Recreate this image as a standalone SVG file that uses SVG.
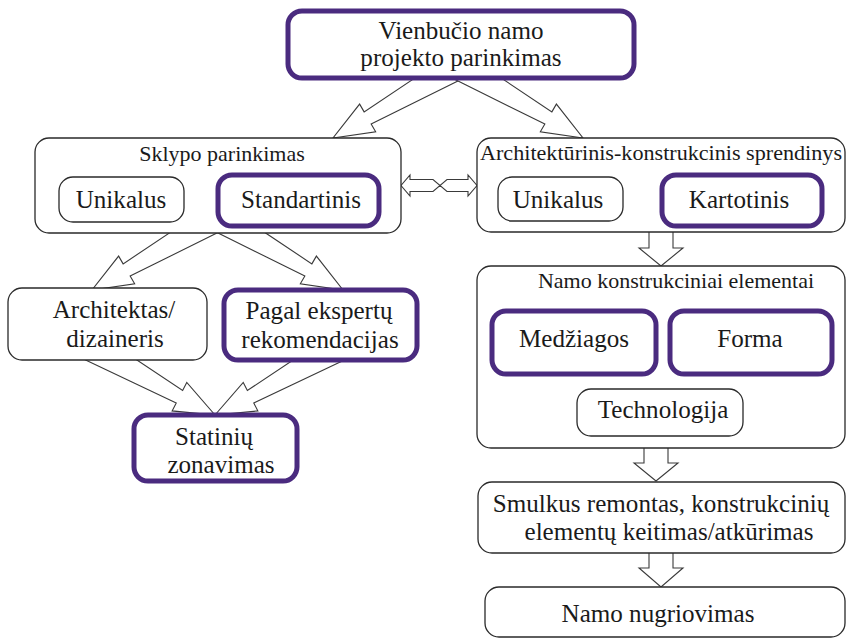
<svg xmlns="http://www.w3.org/2000/svg" width="848" height="640" viewBox="0 0 848 640" font-family="'Liberation Serif', 'Times New Roman', Times, serif">
<style>
  text { font-family: 'Liberation Serif', 'Times New Roman', Times, serif; fill: #1a1a1a; text-anchor: middle; }
  .t { font-size: 22px; }
  .ti { font-size: 22px; }
  .box { fill: #ffffff; stroke: #2a2a2a; stroke-width: 1.3; }
  .pbox { fill: #ffffff; stroke: #4a2b7f; stroke-width: 5; }
  .arr { fill: #ffffff; stroke: #3a3a3a; stroke-width: 1.1; stroke-linejoin: miter; }
</style>
<rect width="848" height="640" fill="#ffffff"/>

<g id="connectors">
  <polygon class="arr" points="453.97,51.85 364.13,111.9 359.62,104.1 333,138 375.66,131.82 371.15,124.02 468,76.09"/>
  <polygon class="arr" points="462.03,51.85 551.87,111.9 556.38,104.1 583,138 540.34,131.82 544.85,124.02 448,76.09"/>
  <polygon class="arr" points="212.97,203.85 123.13,263.9 118.62,256.1 92,290 134.66,283.82 130.15,276.02 227,228.09"/>
  <polygon class="arr" points="222.03,203.85 311.87,263.9 316.38,256.1 343,290 300.34,283.82 304.85,276.02 208,228.09"/>
  <polygon class="arr" points="90.36,329.06 182.64,390.47 186.76,382.46 215,415 172.12,410.92 176.24,402.91 76.62,355.74"/>
  <polygon class="arr" points="339.64,329.06 247.36,390.47 243.24,382.46 215,415 257.88,410.92 253.76,402.91 353.38,355.74"/>
  <polygon class="arr" points="649,225 649,248 639,248 661,266 683,248 673,248 673,225"/>
  <polygon class="arr" points="644,440 644,463 634,463 656,481 678,463 668,463 668,440"/>
  <polygon class="arr" points="649,545 649,568 639,568 661,587 683,568 673,568 673,545"/>
  <path class="arr" d="M410,179.5 H433 L447,191.5 H468 V196 L477,185.5 L468,175 V179.5 H447 L433,191.5 H410 V196 L401,185.5 L410,175 Z"/>
</g>

<g id="n-vienbucio">
  <rect class="pbox" x="288" y="11" width="346" height="67" rx="14"/>
  <text class="t" transform="translate(461,39) scale(1.14)">Vienbučio namo</text>
  <text class="t" transform="translate(461,66) scale(1.14)">projekto parinkimas</text>
</g>

<g id="n-sklypo">
  <rect class="box" x="35" y="138" width="366" height="95" rx="14"/>
  <text class="ti" x="222" y="161">Sklypo parinkimas</text>
</g>
<g id="n-unikalus1">
  <rect class="box" x="59" y="177" width="125" height="45" rx="14"/>
  <text class="t" transform="translate(121,208) scale(1.14)">Unikalus</text>
</g>
<g id="n-standartinis">
  <rect class="pbox" x="218" y="175" width="161" height="51" rx="14"/>
  <text class="t" transform="translate(301,208) scale(1.14)">Standartinis</text>
</g>

<g id="n-arch">
  <rect class="box" x="477" y="138" width="368" height="94" rx="14"/>
  <text class="ti" x="661" y="160" textLength="362" lengthAdjust="spacingAndGlyphs">Architektūrinis-konstrukcinis sprendinys</text>
</g>
<g id="n-unikalus2">
  <rect class="box" x="498" y="177" width="125" height="44" rx="14"/>
  <text class="t" transform="translate(558,208) scale(1.14)">Unikalus</text>
</g>
<g id="n-kartotinis">
  <rect class="pbox" x="662" y="175" width="160" height="51" rx="14"/>
  <text class="t" transform="translate(739,208) scale(1.14)">Kartotinis</text>
</g>

<g id="n-architektas">
  <rect class="box" x="8" y="288" width="199" height="72" rx="14"/>
  <text class="t" transform="translate(114,318) scale(1.14)">Architektas/</text>
  <text class="t" transform="translate(115,347) scale(1.14)">dizaineris</text>
</g>
<g id="n-pagal">
  <rect class="pbox" x="224" y="290" width="193" height="70" rx="14"/>
  <text class="t" transform="translate(319,319) scale(1.14)">Pagal ekspertų</text>
  <text class="t" transform="translate(320,348) scale(1.14)">rekomendacijas</text>
</g>
<g id="n-statiniu">
  <rect class="pbox" x="134" y="415" width="163" height="66" rx="14"/>
  <text class="t" transform="translate(214,445) scale(1.14)">Statinių</text>
  <text class="t" transform="translate(221,473) scale(1.14)">zonavimas</text>
</g>

<g id="n-konstrukciniai">
  <rect class="box" x="477" y="266" width="368" height="182" rx="14"/>
  <text class="ti" x="676" y="288">Namo konstrukciniai elementai</text>
</g>
<g id="n-medziagos">
  <rect class="pbox" x="492" y="311" width="164" height="63" rx="14"/>
  <text class="t" transform="translate(574,347) scale(1.14)">Medžiagos</text>
</g>
<g id="n-forma">
  <rect class="pbox" x="670" y="311" width="162" height="63" rx="14"/>
  <text class="t" transform="translate(750,347) scale(1.14)">Forma</text>
</g>
<g id="n-technologija">
  <rect class="box" x="577" y="389" width="166" height="47" rx="14"/>
  <text class="t" transform="translate(663,418) scale(1.14)">Technologija</text>
</g>

<g id="n-smulkus">
  <rect class="box" x="478" y="482" width="367" height="71" rx="14"/>
  <text class="t" transform="translate(661,512) scale(1.14)">Smulkus remontas, konstrukcinių</text>
  <text class="t" transform="translate(669,540) scale(1.14)">elementų keitimas/atkūrimas</text>
</g>
<g id="n-nugriovimas">
  <rect class="box" x="485" y="587" width="360" height="50" rx="14"/>
  <text class="t" transform="translate(658,622) scale(1.14)">Namo nugriovimas</text>
</g>
</svg>
